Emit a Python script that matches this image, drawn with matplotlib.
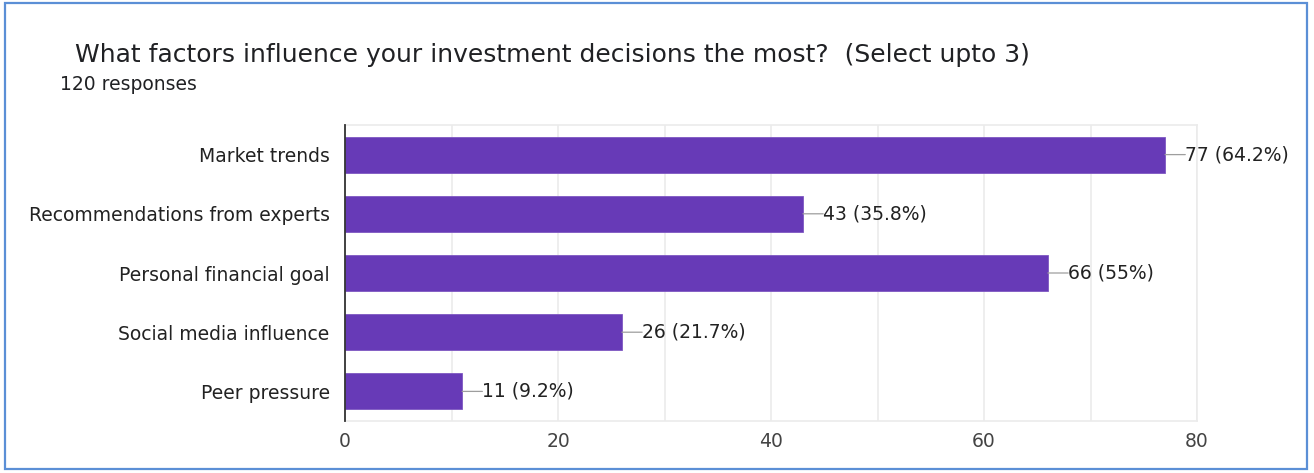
import matplotlib.pyplot as plt
from matplotlib.patches import Rectangle

categories = ["Market trends", "Recommendations from experts", "Personal financial goal",
              "Social media influence", "Peer pressure"]
counts = [77, 43, 66, 26, 11]
percents = ["64.2%", "35.8%", "55%", "21.7%", "9.2%"]
total = 120

W, H = 1314, 473
fig = plt.figure(figsize=(W / 100, H / 100), dpi=100)
plt.rcParams['font.family'] = ['DejaVu Sans']

# outer card border
fig.patches.append(Rectangle((5 / W, 4 / H), 1302 / W, 466 / H, transform=fig.transFigure,
                             facecolor='none', edgecolor='#5b8fd6', linewidth=1.6, zorder=-1))

fig.text(75 / W, 1 - 55 / H, "What factors influence your investment decisions the most?  (Select upto 3)",
         fontsize=18, color='#202124', va='center')
fig.text(60 / W, 1 - 85 / H, f"{total} responses", fontsize=13.5,
         color='#202124', va='center')

ax = fig.add_axes([345 / W, 52 / H, 852 / W, 296 / H])
y = list(range(len(categories)))
ax.barh(y, counts, height=0.61, color='#673ab7', edgecolor='#7e57c2', linewidth=0.6, zorder=3)
ax.set_ylim(len(categories) - 0.5, -0.5)
ax.set_xlim(0, 80)

for yi, c, p in zip(y, counts, percents):
    ax.annotate("", xy=(c, yi), xytext=(c + 1.9, yi),
                arrowprops=dict(arrowstyle='-', color='#9e9e9e', lw=0.9, shrinkA=0, shrinkB=0),
                zorder=4)
    ax.text(c + 1.9, yi, f"{c} ({p})", va='center', ha='left', fontsize=13.5,
            color='#222222', zorder=5)

ax.set_yticks(y)
ax.set_yticklabels(categories, fontsize=13.5, color='#222222')
ax.set_xticks([0, 20, 40, 60, 80])
ax.set_xticklabels(["0", "20", "40", "60", "80"], fontsize=13.5, color='#444444')
ax.set_xticks([10, 30, 50, 70], minor=True)
ax.tick_params(axis='y', length=0, pad=11)
ax.tick_params(axis='x', length=0, pad=8)
ax.tick_params(axis='x', which='minor', length=0)
ax.grid(axis='x', which='both', color='#ebebeb', linewidth=1.2, zorder=0)

for side in ['top', 'right', 'bottom']:
    ax.spines[side].set_color('#ebebeb')
    ax.spines[side].set_linewidth(1.2)
ax.spines['left'].set_color('#333333')
ax.spines['left'].set_linewidth(1.3)
ax.spines['left'].set_zorder(6)

fig.savefig("out.png", dpi=100)
